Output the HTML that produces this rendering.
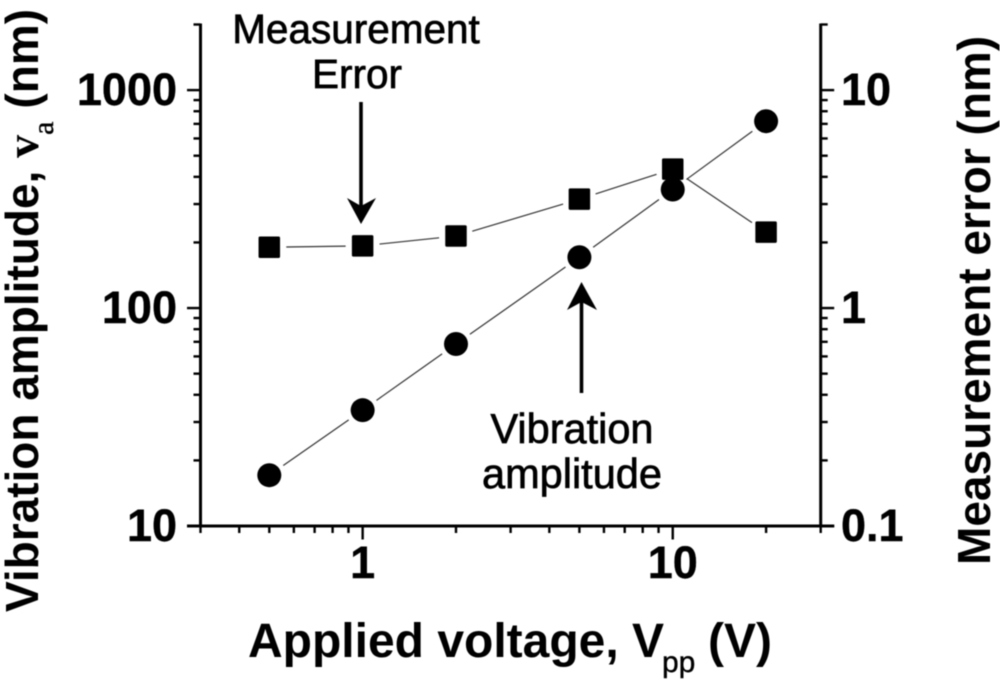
<!DOCTYPE html>
<html lang="en">
<head>
<meta charset="utf-8">
<title>Vibration amplitude and measurement error vs applied voltage</title>
<style>
  html, body { margin: 0; padding: 0; background: #fff; }
  #chart { display: block; width: 1000px; height: 681px; filter: blur(0.55px); }
  text { font-family: "Liberation Sans", Arial, sans-serif; fill: #000; }
  .tick-label { font-size: 45px; font-weight: bold; stroke: #000; stroke-width: 0.4px; }
  .axis-title { font-size: 46px; font-weight: bold; }
  .x-title { font-size: 48px; }
  .sub { font-size: 30px; font-weight: normal; stroke: #000; stroke-width: 0.4px; }
  .note { font-size: 40.5px; stroke: #000; stroke-width: 0.7px; text-anchor: middle; }
  .note-wide { font-size: 41.5px; }
  .serif { font-family: "Liberation Serif", serif; }
</style>
</head>
<body>
<svg id="chart" xmlns="http://www.w3.org/2000/svg" width="1000" height="681" viewBox="0 0 1000 681">
  <g id="axes"></g>
  <g id="series"></g>

  <text class="axis-title x-title" x="248" y="657">Applied voltage, V<tspan class="sub" x="662" y="672">pp</tspan><tspan x="708" y="657">(V)</tspan></text>
  <text class="axis-title" transform="translate(38 612) rotate(-90)">Vibration amplitude, <tspan class="serif">v</tspan><tspan class="sub serif" font-size="27" dy="15">a</tspan><tspan dy="-15" dx="13">(nm)</tspan></text>
  <text class="axis-title" transform="translate(990 565) rotate(-90)">Measurement error (nm)</text>

  <text class="note" x="356" y="43">Measurement</text>
  <text class="note" x="357" y="88">Error</text>
  <text class="note note-wide" x="572" y="443">Vibration</text>
  <text class="note note-wide" x="572" y="488">amplitude</text>

  <g>
    <line x1="361" y1="102" x2="361" y2="208" stroke="#000" stroke-width="3.6"/>
    <path d="M361 224 L347 198 L361 206 L376 198 Z" fill="#000"/>
  </g>
  <g>
    <line x1="581.5" y1="393" x2="581.5" y2="300" stroke="#000" stroke-width="3.6"/>
    <path d="M581.5 282 L567 310 L581.5 302 L597 310 Z" fill="#000"/>
  </g>
</svg>

<script>
const voltage = [0.5, 1, 2, 5, 10, 20];
const amplitude = [17.1, 34, 68.4, 171, 350, 720];
const measurementError = [1.9, 1.93, 2.14, 3.16, 4.34, 2.23];

const xMajorTicks = [1, 10];
const xMinorTicks = [0.3, 0.4, 0.5, 0.6, 0.7, 0.8, 0.9, 2, 3, 4, 5, 6, 7, 8, 9, 20, 30];
const xTickLabels = ['1', '10'];
const leftMajorTicks = [10, 100, 1000];
const leftMinorTicks = [20, 30, 40, 50, 60, 70, 80, 90, 200, 300, 400, 500, 600, 700, 800, 900, 2000];
const leftTickLabels = ['10', '100', '1000'];
const rightMajorTicks = [0.1, 1, 10];
const rightMinorTicks = [0.2, 0.3, 0.4, 0.5, 0.6, 0.7, 0.8, 0.9, 2, 3, 4, 5, 6, 7, 8, 9, 20];
const rightTickLabels = ['0.1', '1', '10'];

const NS = 'http://www.w3.org/2000/svg';
const PLOT_LEFT = 200.5, PLOT_RIGHT = 820.7, PLOT_TOP = 24.5, PLOT_BOTTOM = 526;
const AXIS_W = 3, TICK_W = 2.4, MAJOR = 13.5, MINOR = 7;
const MARKER_GAP = 17;

function logScale(d0, d1, r0, r1) {
  return v => r0 + (Math.log10(v) - Math.log10(d0)) / (Math.log10(d1) - Math.log10(d0)) * (r1 - r0);
}
const xScale = logScale(0.3, 30, PLOT_LEFT, PLOT_RIGHT);
const leftScale = logScale(10, 2000, PLOT_BOTTOM, PLOT_TOP);
const rightScale = logScale(0.1, 20, PLOT_BOTTOM, PLOT_TOP);

function make(tag, parent, attrs) {
  const el = document.createElementNS(NS, tag);
  for (const k in attrs) el.setAttribute(k, attrs[k]);
  parent.appendChild(el);
  return el;
}
function rule(parent, x1, y1, x2, y2, w) {
  return make('line', parent, { x1, y1, x2, y2, stroke: '#000', 'stroke-width': w });
}

const axes = document.getElementById('axes');
const series = document.getElementById('series');

const bottomAxis = rule(axes, PLOT_LEFT - MAJOR, PLOT_BOTTOM, PLOT_RIGHT + MAJOR, PLOT_BOTTOM, AXIS_W);


const leftAxis = rule(axes, PLOT_LEFT, PLOT_TOP - 1, PLOT_LEFT, PLOT_BOTTOM, AXIS_W);


const rightAxis = rule(axes, PLOT_RIGHT, PLOT_TOP - 1, PLOT_RIGHT, PLOT_BOTTOM, AXIS_W);



xMinorTicks.forEach(v => {
  const t = rule(axes, xScale(v), PLOT_BOTTOM, xScale(v), PLOT_BOTTOM + MINOR, TICK_W);
  
  
});
xMajorTicks.forEach((v, i) => {
  const t = rule(axes, xScale(v), PLOT_BOTTOM, xScale(v), PLOT_BOTTOM + MAJOR, TICK_W);
  
  
  const label = make('text', axes, { class: 'tick-label', x: xScale(v), y: 578, 'text-anchor': 'middle' });
  label.textContent = xTickLabels[i];
  
  
});
leftMinorTicks.forEach(v => {
  const t = rule(axes, PLOT_LEFT - MINOR, leftScale(v), PLOT_LEFT, leftScale(v), TICK_W);
  
  
});
leftMajorTicks.forEach((v, i) => {
  const t = rule(axes, PLOT_LEFT - MAJOR, leftScale(v), PLOT_LEFT, leftScale(v), TICK_W);
  
  
  const label = make('text', axes, { class: 'tick-label', x: 177, y: leftScale(v) + 15, 'text-anchor': 'end' });
  label.textContent = leftTickLabels[i];
  
  
});
rightMinorTicks.forEach(v => {
  const t = rule(axes, PLOT_RIGHT, rightScale(v), PLOT_RIGHT + MINOR, rightScale(v), TICK_W);
  
  
});
rightMajorTicks.forEach((v, i) => {
  const t = rule(axes, PLOT_RIGHT, rightScale(v), PLOT_RIGHT + MAJOR, rightScale(v), TICK_W);
  
  
  const label = make('text', axes, { class: 'tick-label', x: 841, y: rightScale(v) + 15 });
  label.textContent = rightTickLabels[i];
  
  
});

function segments(values, scale) {
  for (let i = 0; i < values.length - 1; i++) {
    const x0 = xScale(voltage[i]), y0 = scale(values[i]);
    const x1 = xScale(voltage[i + 1]), y1 = scale(values[i + 1]);
    const len = Math.hypot(x1 - x0, y1 - y0);
    const ux = (x1 - x0) / len, uy = (y1 - y0) / len;
    const seg = make('line', series, {
      x1: x0 + ux * MARKER_GAP, y1: y0 + uy * MARKER_GAP,
      x2: x1 - ux * MARKER_GAP, y2: y1 - uy * MARKER_GAP,
      stroke: '#333', 'stroke-width': 1.2
    });
    
    
  }
}
segments(measurementError, rightScale);
segments(amplitude, leftScale);

measurementError.forEach((v, i) => {
  const s = 21.5;
  const m = make('rect', series, { x: xScale(voltage[i]) - s / 2, y: rightScale(v) - s / 2, width: s, height: s, rx: 1.5, fill: '#000' });
  
  
});
amplitude.forEach((v, i) => {
  const m = make('circle', series, { cx: xScale(voltage[i]), cy: leftScale(v), r: 12, fill: '#000' });
  
  
});
</script>
</body>
</html>
